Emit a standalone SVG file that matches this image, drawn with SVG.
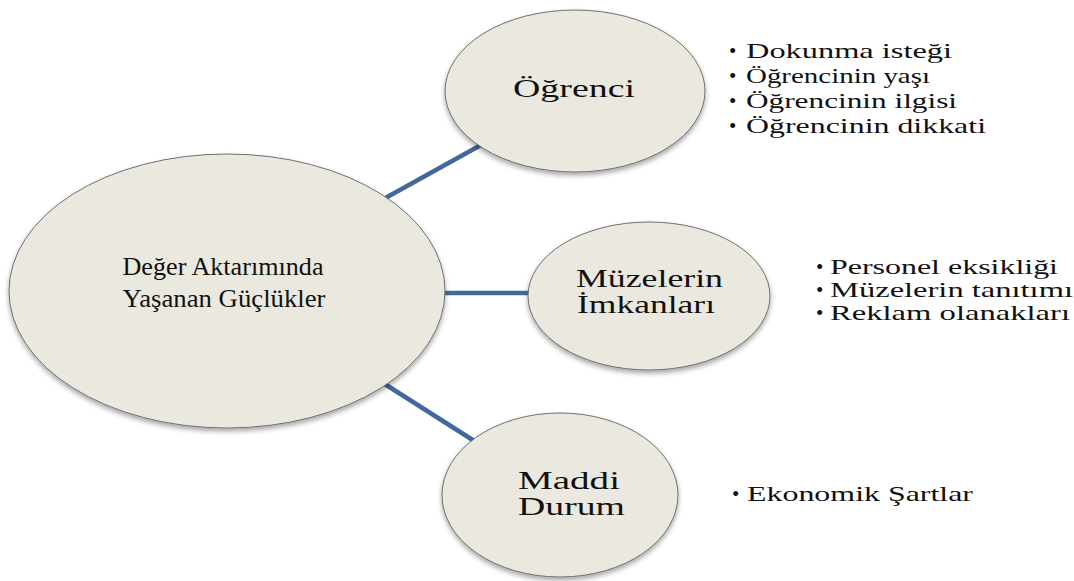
<svg xmlns="http://www.w3.org/2000/svg" width="1074" height="581" viewBox="0 0 1074 581">
<style>
.node{fill:#ebe9df;stroke:#6f6f6f;stroke-width:1;filter:url(#sh)}
.conn{stroke:#43689c;stroke-width:4.5;fill:none}
.t{fill:#111;font-family:"Liberation Serif","Times New Roman",serif}
.c{font-size:26px;text-anchor:middle}
.n{font-size:25px}
.b{font-size:21px}
</style>
<defs>
<filter id="sh" x="-10%" y="-10%" width="120%" height="125%">
<feDropShadow dx="0" dy="3" stdDeviation="2.5" flood-color="#000" flood-opacity="0.35"/>
</filter>
</defs>
<rect width="1074" height="581" fill="#fff"/>
<g id="connectors">
<line class="conn" x1="380" y1="201" x2="490" y2="140"/>
<line class="conn" x1="440" y1="293" x2="535" y2="293"/>
<line class="conn" x1="380" y1="381" x2="490" y2="451"/>
</g>
<g id="center">
<ellipse class="node" cx="227" cy="291" rx="218" ry="137"/>
<text class="t c" x="223" y="275" textLength="201" lengthAdjust="spacingAndGlyphs">Değer Aktarımında</text>
<text class="t c" x="224" y="307" textLength="203" lengthAdjust="spacingAndGlyphs">Yaşanan Güçlükler</text>
</g>
<g id="ogrenci">
<ellipse class="node" cx="575" cy="91" rx="130" ry="81"/>
<text class="t n" x="513" y="97" textLength="122" lengthAdjust="spacingAndGlyphs">Öğrenci</text>
</g>
<g id="ogrenci-items">
<text class="t b" x="729" y="58">•</text><text class="t b" x="746" y="58" textLength="206" lengthAdjust="spacingAndGlyphs">Dokunma isteği</text>
<text class="t b" x="729" y="83">•</text><text class="t b" x="746" y="83" textLength="184" lengthAdjust="spacingAndGlyphs">Öğrencinin yaşı</text>
<text class="t b" x="729" y="108">•</text><text class="t b" x="746" y="108" textLength="211" lengthAdjust="spacingAndGlyphs">Öğrencinin ilgisi</text>
<text class="t b" x="729" y="133">•</text><text class="t b" x="746" y="133" textLength="240" lengthAdjust="spacingAndGlyphs">Öğrencinin dikkati</text>
</g>
<g id="muzeler">
<ellipse class="node" cx="649" cy="296" rx="121" ry="74"/>
<text class="t n" x="576" y="287" textLength="147" lengthAdjust="spacingAndGlyphs">Müzelerin</text>
<text class="t n" x="577" y="313" textLength="138" lengthAdjust="spacingAndGlyphs">İmkanları</text>
</g>
<g id="muzeler-items">
<text class="t b" x="816" y="274">•</text><text class="t b" x="830" y="274" textLength="228" lengthAdjust="spacingAndGlyphs">Personel eksikliği</text>
<text class="t b" x="816" y="297">•</text><text class="t b" x="830" y="297" textLength="243" lengthAdjust="spacingAndGlyphs">Müzelerin tanıtımı</text>
<text class="t b" x="816" y="320">•</text><text class="t b" x="830" y="320" textLength="240" lengthAdjust="spacingAndGlyphs">Reklam olanakları</text>
</g>
<g id="maddi">
<ellipse class="node" cx="560" cy="495" rx="118" ry="82"/>
<text class="t n" x="518" y="489" textLength="102" lengthAdjust="spacingAndGlyphs">Maddi</text>
<text class="t n" x="518" y="515" textLength="107" lengthAdjust="spacingAndGlyphs">Durum</text>
</g>
<g id="maddi-items">
<text class="t b" x="732" y="501">•</text><text class="t b" x="747" y="501" textLength="226" lengthAdjust="spacingAndGlyphs">Ekonomik Şartlar</text>
</g>
</svg>
